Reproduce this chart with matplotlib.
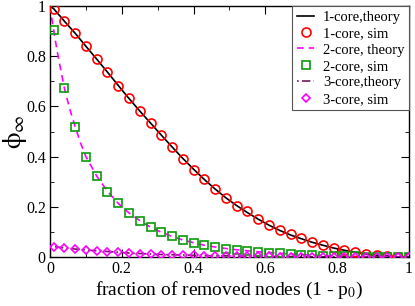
import numpy as np
import matplotlib
matplotlib.use("Agg")
import matplotlib.pyplot as plt
from matplotlib.ticker import MultipleLocator

# fraction of removed nodes, simulation grid
x_sim = [0.01, 0.04, 0.07, 0.10, 0.13, 0.16, 0.19, 0.22, 0.25, 0.28, 0.31, 0.34,
         0.37, 0.40, 0.43, 0.46, 0.49, 0.52, 0.55, 0.58, 0.61, 0.64, 0.67, 0.70,
         0.73, 0.76, 0.79, 0.82, 0.85, 0.88, 0.91, 0.94, 0.97, 1.00]

core1_sim = [0.99, 0.94, 0.892, 0.84, 0.79, 0.737, 0.683, 0.632, 0.582, 0.534, 0.486, 0.438,
             0.392, 0.348, 0.312, 0.272, 0.236, 0.204, 0.182, 0.151, 0.127, 0.107, 0.091, 0.076,
             0.060, 0.048, 0.036, 0.027, 0.019, 0.012, 0.008, 0.004, 0.002, 0.0]

core2_sim = [0.904, 0.673, 0.52, 0.40, 0.323, 0.26, 0.214, 0.176, 0.145, 0.118, 0.10, 0.082,
             0.068, 0.057, 0.046, 0.040, 0.034, 0.029, 0.025, 0.021, 0.018, 0.015, 0.012, 0.010,
             0.008, 0.006, 0.005, 0.004, 0.003, 0.002, 0.001, 0.001, 0.0, 0.0]

core3_sim = [0.042, 0.036, 0.032, 0.028, 0.025, 0.022, 0.019, 0.016, 0.014, 0.012, 0.010, 0.009,
             0.008, 0.007, 0.006, 0.005, 0.005, 0.004, 0.004, 0.003, 0.003, 0.002, 0.002, 0.002,
             0.001, 0.001, 0.001, 0.001, 0.0, 0.0, 0.0, 0.0, 0.0, 0.0]

# theory curves
x_th = [0.0, 0.01, 0.02, 0.03, 0.04, 0.055, 0.07, 0.085, 0.10, 0.13, 0.16, 0.19, 0.22, 0.25,
        0.28, 0.31, 0.34, 0.37, 0.40, 0.43, 0.46, 0.49, 0.52, 0.55, 0.58, 0.61, 0.64, 0.67,
        0.70, 0.73, 0.76, 0.79, 0.82, 0.85, 0.88, 0.91, 0.94, 0.97, 1.0]
core1_th = [1.0, 0.99, 0.973, 0.957, 0.94, 0.916, 0.892, 0.866, 0.84, 0.789, 0.737, 0.684,
            0.632, 0.582, 0.534, 0.486, 0.439, 0.393, 0.350, 0.309, 0.271, 0.236, 0.205,
            0.177, 0.151, 0.127, 0.106, 0.088, 0.073, 0.059, 0.047, 0.036, 0.027, 0.019,
            0.012, 0.007, 0.004, 0.001, 0.0]
core2_th = [1.0, 0.904, 0.82, 0.745, 0.673, 0.59, 0.52, 0.455, 0.40, 0.323, 0.262, 0.214,
            0.176, 0.145, 0.119, 0.099, 0.082, 0.068, 0.057, 0.047, 0.040, 0.034, 0.029,
            0.025, 0.021, 0.018, 0.015, 0.012, 0.010, 0.008, 0.006, 0.005, 0.004, 0.003,
            0.002, 0.001, 0.001, 0.0, 0.0]
core3_th = [0.044, 0.042, 0.040, 0.038, 0.036, 0.034, 0.032, 0.030, 0.028, 0.025, 0.022, 0.019,
            0.016, 0.014, 0.012, 0.010, 0.009, 0.008, 0.007, 0.006, 0.005, 0.005, 0.004,
            0.004, 0.003, 0.003, 0.002, 0.002, 0.002, 0.001, 0.001, 0.001, 0.001, 0.0,
            0.0, 0.0, 0.0, 0.0, 0.0]

plt.rcParams['font.family'] = ['Liberation Serif', 'DejaVu Serif']
plt.rcParams['mathtext.fontset'] = 'stix'

fig = plt.figure(figsize=(4.15, 3.06), dpi=100)
ax = fig.add_axes([0.1205, 0.160, 0.865, 0.820])

ax.plot(x_th, core1_th, color='black', lw=1.2, label='1-core,theory', zorder=2)
ax.plot(x_sim, core1_sim, 'o', mfc='none', mec='red', mew=1.2, ms=6.5,
        label='1-core, sim', zorder=3)
ax.plot(x_th, core2_th, color='magenta', lw=1.2, ls=(0, (4, 3)), label='2-core, theory', zorder=2)
ax.plot(x_sim, core2_sim, 's', mfc='none', mec='#0a9a0a', mew=1.2, ms=5.5,
        label='2-core, sim', zorder=3)
ax.plot(x_th, core3_th, color='#6e1a5e', lw=1.2, ls=(0, (1, 2, 5, 2)),
        label='3-core,theory', zorder=2)
ax.plot(x_sim, core3_sim, 'D', mfc='none', mec='magenta', mew=1.2, ms=4.5,
        label='3-core, sim', zorder=3)

ax.set_xlim(0, 1)
ax.set_ylim(0, 1)
ax.xaxis.set_major_locator(MultipleLocator(0.2))
ax.xaxis.set_minor_locator(MultipleLocator(0.1))
ax.yaxis.set_major_locator(MultipleLocator(0.2))
ax.yaxis.set_minor_locator(MultipleLocator(0.1))
ax.set_xticklabels(['', '0', '0.2', '0.4', '0.6', '0.8', '1'])
ax.set_yticklabels(['', '0', '0.2', '0.4', '0.6', '0.8', '1'])
ax.tick_params(which='both', direction='in', top=True, right=True, labelsize=11.5, pad=3)
ax.tick_params(which='major', length=6)
ax.tick_params(which='minor', length=3)
for s in ax.spines.values():
    s.set_linewidth(1.0)

ax.set_xlabel('fraction of removed nodes (1 - p$_0$)', fontsize=14, labelpad=2)
ax.set_ylabel(r'$\mathrm{\phi}_{\infty}$', fontsize=19, labelpad=-2)

leg = ax.legend(loc='upper right', fontsize=10.5, borderaxespad=0, handlelength=1.2,
                handletextpad=0.6, labelspacing=0.22, borderpad=0.3, fancybox=False,
                framealpha=1)
leg.get_frame().set_edgecolor('#555555')
leg.get_frame().set_linewidth(0.8)

fig.savefig('out.png', dpi=100)
